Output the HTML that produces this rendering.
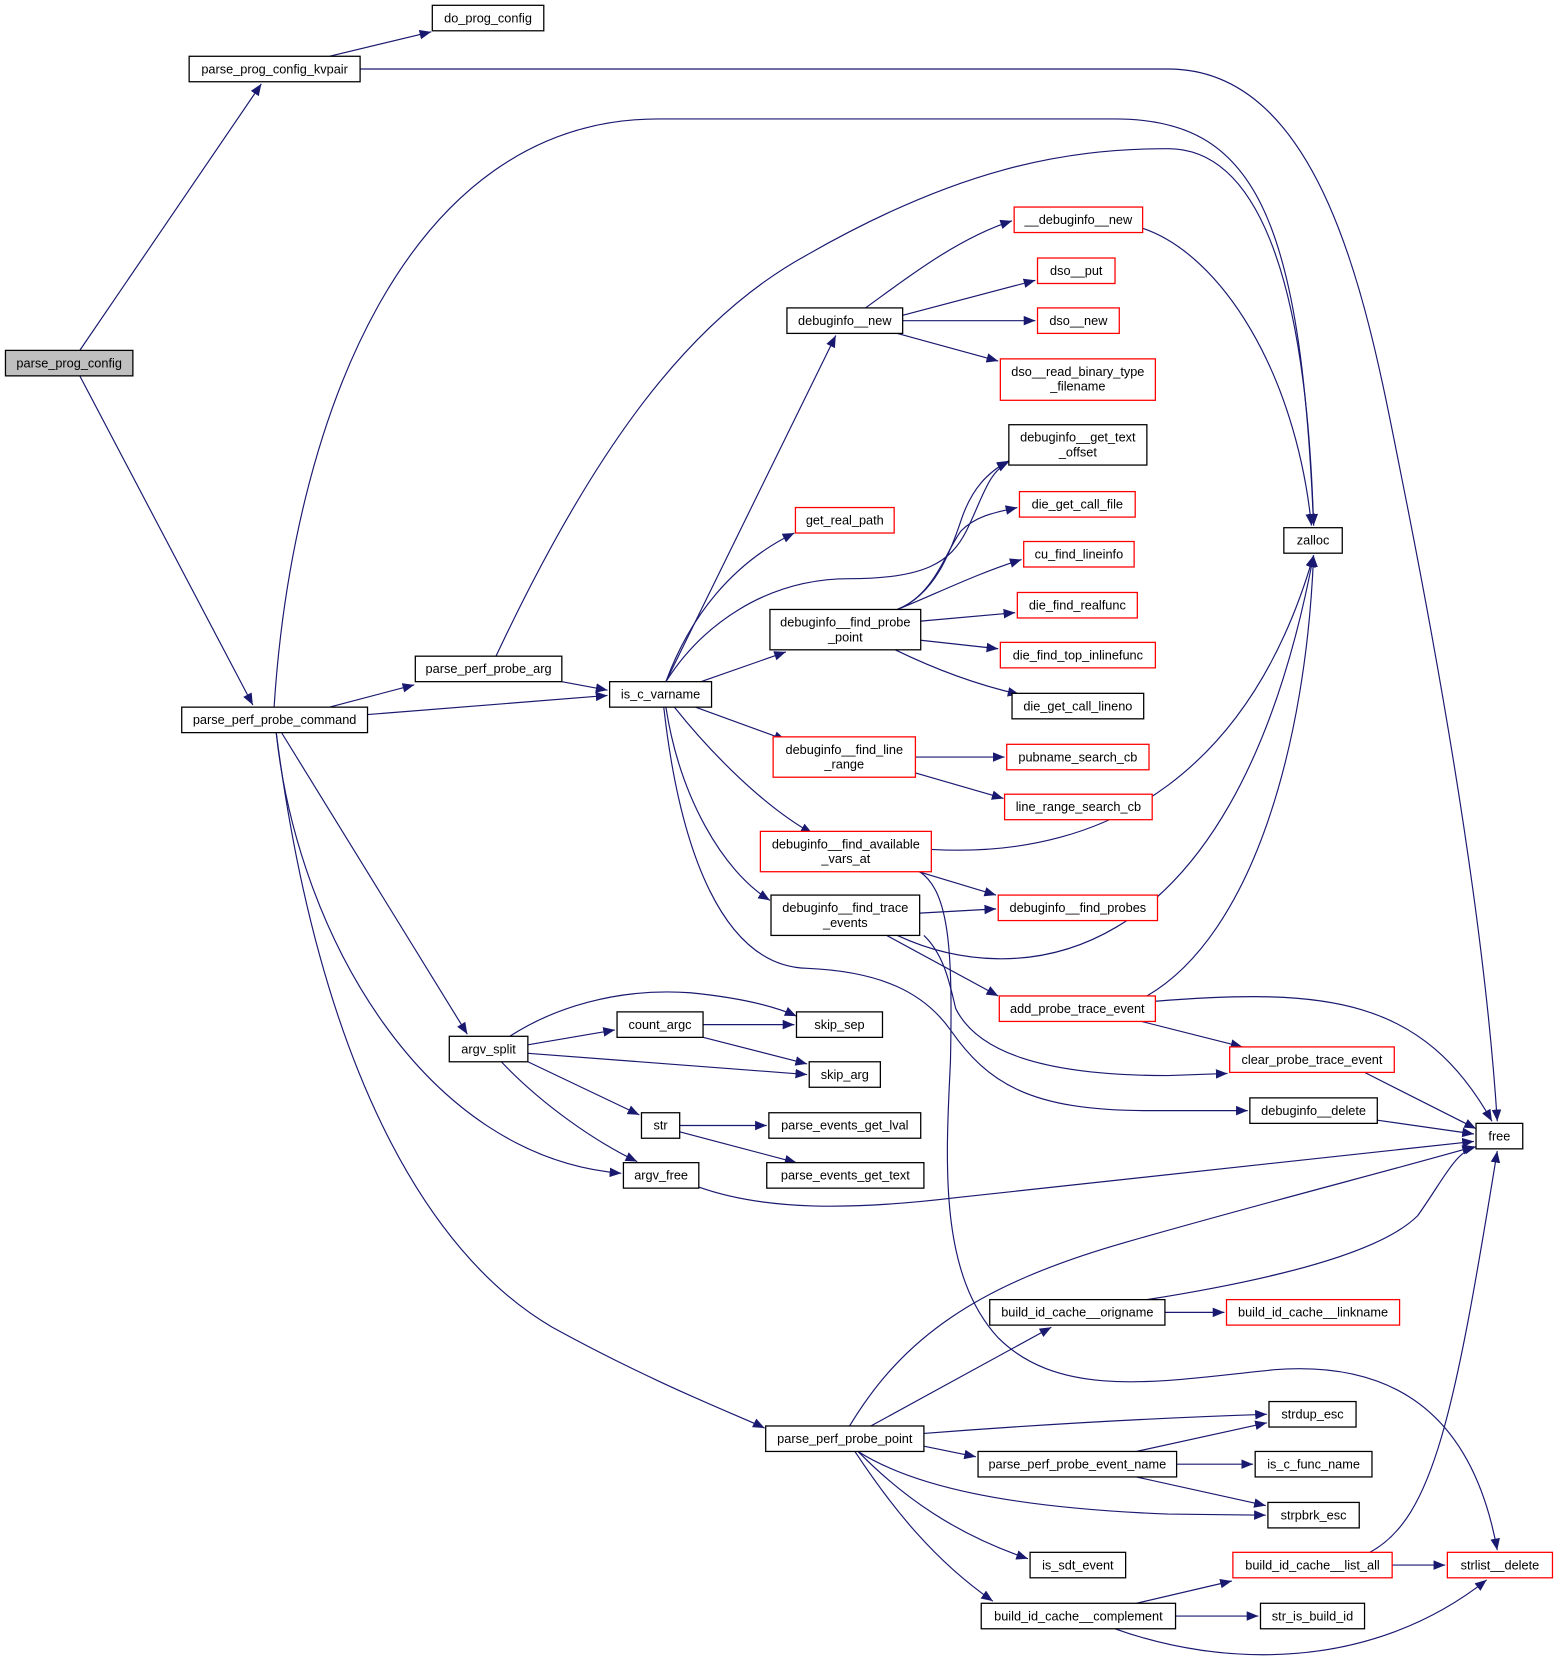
<!DOCTYPE html>
<html><head><meta charset="utf-8"><style>
html,body{margin:0;padding:0;background:#fff;}
svg{display:block;}
text{font-family:"Liberation Sans",sans-serif;font-size:12px;fill:#000;text-anchor:middle;}
.e{fill:none;stroke:#191970;stroke-width:1.1;marker-end:url(#a);}
.n{fill:#fff;stroke:#000;stroke-width:1.2;}
.r{fill:#fff;stroke:#ff0000;stroke-width:1.2;}
</style></head><body>
<svg width="1559" height="1667" viewBox="0 0 1468 1570" xmlns="http://www.w3.org/2000/svg">
<defs><marker id="a" markerUnits="userSpaceOnUse" markerWidth="12" markerHeight="10" refX="11" refY="4.5" orient="auto"><path d="M0,0 L11,4.5 L0,9 z" fill="#191970"/></marker></defs>
<g>
<path class="e" d="M75,330 L246,79"/>
<path class="e" d="M75,354 L238,664"/>
<path class="e" d="M310,53 L406,30"/>
<path class="e" d="M339,65 L1100,65 C1250,65 1290,300 1320,450 C1370,700 1400,900 1410,1056"/>
<path class="e" d="M258,666 C275,400 380,112 620,112 L1050,112 C1180,112 1225,200 1237,495"/>
<path class="e" d="M310,666 L390,645"/>
<path class="e" d="M346,673 L572,655"/>
<path class="e" d="M265,690 L440,974"/>
<path class="e" d="M260,690 C280,880 400,1090 585,1105"/>
<path class="e" d="M260,690 C300,1000 400,1180 520,1250 C620,1305 700,1335 720,1345"/>
<path class="e" d="M467,618 C560,420 650,300 760,240 C900,160 1000,140 1100,140 C1180,140 1230,250 1237,495"/>
<path class="e" d="M529,642 L572,650"/>
<path class="e" d="M627,642 L787,316"/>
<path class="e" d="M627,642 C650,580 690,530 748,502"/>
<path class="e" d="M627,642 C660,590 720,545 800,545 C870,545 895,530 910,500 C925,470 930,445 950,435"/>
<path class="e" d="M660,642 L740,614"/>
<path class="e" d="M655,666 L740,697"/>
<path class="e" d="M635,666 C670,710 720,760 765,785"/>
<path class="e" d="M627,666 C640,750 680,820 725,848"/>
<path class="e" d="M625,666 C640,800 680,910 760,912 C830,915 870,935 895,970 C930,1020 970,1046 1080,1046 L1175,1046"/>
<path class="e" d="M866,821 C895,840 897,900 895,1000 C890,1100 885,1200 940,1260 C1000,1320 1100,1300 1200,1290 C1330,1280 1390,1350 1410,1460"/>
<path class="e" d="M815,290 C850,265 900,225 953,208"/>
<path class="e" d="M850,297 L975,264"/>
<path class="e" d="M850,302 L975,302"/>
<path class="e" d="M845,314 L940,340"/>
<path class="e" d="M1076,215 C1150,240 1220,350 1235,495"/>
<path class="e" d="M845,574 C880,560 895,520 905,490 C915,460 930,445 950,434"/>
<path class="e" d="M845,574 C880,560 890,520 905,500 C920,485 940,482 958,478"/>
<path class="e" d="M845,574 C880,560 920,540 962,527"/>
<path class="e" d="M867,585 L956,577"/>
<path class="e" d="M867,603 L940,611"/>
<path class="e" d="M843,612 C880,630 920,645 960,654"/>
<path class="e" d="M862,713 L946,713"/>
<path class="e" d="M862,728 L945,752"/>
<path class="e" d="M877,800 C1050,810 1180,720 1237,523"/>
<path class="e" d="M865,821 L938,843"/>
<path class="e" d="M866,860 L938,856"/>
<path class="e" d="M845,881 C950,930 1160,930 1237,523"/>
<path class="e" d="M835,881 L940,938"/>
<path class="e" d="M870,881 C890,900 895,930 900,950 C920,990 980,1013 1100,1013 L1156,1011"/>
<path class="e" d="M1080,938 C1180,880 1230,700 1237,523"/>
<path class="e" d="M1088,943 C1250,930 1340,940 1405,1056"/>
<path class="e" d="M1075,962 L1170,986"/>
<path class="e" d="M1285,1010 L1390,1063"/>
<path class="e" d="M1297,1055 L1388,1068"/>
<path class="e" d="M480,976 C520,950 580,930 650,935 C700,940 730,948 750,957"/>
<path class="e" d="M497,984 L579,970"/>
<path class="e" d="M497,992 L760,1012"/>
<path class="e" d="M497,1000 L602,1050"/>
<path class="e" d="M472,1000 C510,1040 560,1075 600,1094"/>
<path class="e" d="M662,965 L748,965"/>
<path class="e" d="M662,977 L760,1002"/>
<path class="e" d="M640,1060 L722,1060"/>
<path class="e" d="M640,1066 L750,1095"/>
<path class="e" d="M658,1118 C720,1140 800,1140 900,1128 L1388,1075"/>
<path class="e" d="M800,1343 C850,1260 920,1210 1060,1170 C1200,1130 1300,1105 1388,1080"/>
<path class="e" d="M1097,1236 L1153,1236"/>
<path class="e" d="M1080,1224 C1200,1205 1300,1180 1335,1145 C1360,1110 1370,1085 1390,1080"/>
<path class="e" d="M820,1343 L990,1250"/>
<path class="e" d="M870,1350 C1000,1340 1100,1335 1193,1332"/>
<path class="e" d="M870,1362 L919,1372"/>
<path class="e" d="M808,1367 C860,1400 950,1420 1100,1426 L1192,1427"/>
<path class="e" d="M808,1367 C850,1410 900,1445 968,1468"/>
<path class="e" d="M805,1367 C840,1420 880,1470 935,1508"/>
<path class="e" d="M1070,1367 L1193,1340"/>
<path class="e" d="M1108,1379 L1180,1379"/>
<path class="e" d="M1070,1391 L1192,1418"/>
<path class="e" d="M1290,1462 C1350,1430 1370,1330 1410,1084"/>
<path class="e" d="M1311,1474 L1361,1474"/>
<path class="e" d="M1070,1510 L1160,1489"/>
<path class="e" d="M1107,1522 L1185,1522"/>
<path class="e" d="M1050,1534 C1150,1570 1290,1575 1400,1488"/>
</g>
<g>
<rect x="5" y="330" width="120" height="24" fill="#bfbfbf" stroke="#000" stroke-width="1.2"/><text x="65" y="346">parse_prog_config</text>
<rect class="n" x="407" y="5" width="105" height="24"/><text x="459.5" y="21">do_prog_config</text>
<rect class="n" x="178" y="53" width="161" height="24"/><text x="258.5" y="69">parse_prog_config_kvpair</text>
<rect class="n" x="171" y="666" width="175" height="24"/><text x="258.5" y="682">parse_perf_probe_command</text>
<rect class="n" x="391" y="618" width="138" height="24"/><text x="460" y="634">parse_perf_probe_arg</text>
<rect class="n" x="574" y="642" width="96" height="24"/><text x="622" y="658">is_c_varname</text>
<rect class="n" x="741" y="290" width="109" height="24"/><text x="795.5" y="306">debuginfo__new</text>
<rect class="r" x="955" y="195" width="121" height="24"/><text x="1015.5" y="211">__debuginfo__new</text>
<rect class="r" x="977" y="243" width="73" height="24"/><text x="1013.5" y="259">dso__put</text>
<rect class="r" x="977" y="290" width="77" height="24"/><text x="1015.5" y="306">dso__new</text>
<rect class="r" x="942" y="338" width="146" height="39"/><text x="1015" y="354">dso__read_binary_type</text><text x="1015" y="368">_filename</text>
<rect class="n" x="950" y="400" width="130" height="38"/><text x="1015" y="416">debuginfo__get_text</text><text x="1015" y="430">_offset</text>
<rect class="r" x="749" y="478" width="93" height="24"/><text x="795.5" y="494">get_real_path</text>
<rect class="r" x="960" y="463" width="109" height="24"/><text x="1014.5" y="479">die_get_call_file</text>
<rect class="r" x="964" y="510" width="104" height="24"/><text x="1016" y="526">cu_find_lineinfo</text>
<rect class="n" x="725" y="574" width="142" height="38"/><text x="796" y="590">debuginfo__find_probe</text><text x="796" y="604">_point</text>
<rect class="r" x="958" y="558" width="113" height="24"/><text x="1014.5" y="574">die_find_realfunc</text>
<rect class="r" x="942" y="605" width="146" height="24"/><text x="1015" y="621">die_find_top_inlinefunc</text>
<rect class="n" x="953" y="653" width="124" height="24"/><text x="1015" y="669">die_get_call_lineno</text>
<rect class="r" x="728" y="694" width="134" height="38"/><text x="795" y="710">debuginfo__find_line</text><text x="795" y="724">_range</text>
<rect class="r" x="948" y="701" width="134" height="24"/><text x="1015" y="717">pubname_search_cb</text>
<rect class="r" x="946" y="748" width="139" height="24"/><text x="1015.5" y="764">line_range_search_cb</text>
<rect class="r" x="716" y="783" width="161" height="38"/><text x="796.5" y="799">debuginfo__find_available</text><text x="796.5" y="813">_vars_at</text>
<rect class="n" x="726" y="843" width="140" height="38"/><text x="796" y="859">debuginfo__find_trace</text><text x="796" y="873">_events</text>
<rect class="r" x="940" y="843" width="150" height="24"/><text x="1015" y="859">debuginfo__find_probes</text>
<rect class="r" x="941" y="938" width="147" height="24"/><text x="1014.5" y="954">add_probe_trace_event</text>
<rect class="r" x="1158" y="986" width="155" height="24"/><text x="1235.5" y="1002">clear_probe_trace_event</text>
<rect class="n" x="1177" y="1034" width="120" height="24"/><text x="1237" y="1050">debuginfo__delete</text>
<rect class="n" x="1209" y="497" width="55" height="24"/><text x="1236.5" y="513">zalloc</text>
<rect class="n" x="1390" y="1058" width="44" height="24"/><text x="1412" y="1074">free</text>
<rect class="n" x="423" y="976" width="74" height="24"/><text x="460" y="992">argv_split</text>
<rect class="n" x="581" y="953" width="81" height="24"/><text x="621.5" y="969">count_argc</text>
<rect class="n" x="750" y="953" width="81" height="24"/><text x="790.5" y="969">skip_sep</text>
<rect class="n" x="762" y="1000" width="67" height="24"/><text x="795.5" y="1016">skip_arg</text>
<rect class="n" x="604" y="1048" width="36" height="24"/><text x="622" y="1064">str</text>
<rect class="n" x="724" y="1048" width="143" height="24"/><text x="795.5" y="1064">parse_events_get_lval</text>
<rect class="n" x="722" y="1095" width="148" height="24"/><text x="796" y="1111">parse_events_get_text</text>
<rect class="n" x="587" y="1095" width="71" height="24"/><text x="622.5" y="1111">argv_free</text>
<rect class="n" x="932" y="1224" width="165" height="24"/><text x="1014.5" y="1240">build_id_cache__origname</text>
<rect class="r" x="1155" y="1224" width="163" height="24"/><text x="1236.5" y="1240">build_id_cache__linkname</text>
<rect class="n" x="721" y="1343" width="149" height="24"/><text x="795.5" y="1359">parse_perf_probe_point</text>
<rect class="n" x="1195" y="1320" width="82" height="24"/><text x="1236" y="1336">strdup_esc</text>
<rect class="n" x="921" y="1367" width="187" height="24"/><text x="1014.5" y="1383">parse_perf_probe_event_name</text>
<rect class="n" x="1182" y="1367" width="110" height="24"/><text x="1237" y="1383">is_c_func_name</text>
<rect class="n" x="1194" y="1415" width="86" height="24"/><text x="1237" y="1431">strpbrk_esc</text>
<rect class="n" x="970" y="1462" width="90" height="24"/><text x="1015" y="1478">is_sdt_event</text>
<rect class="r" x="1161" y="1462" width="150" height="24"/><text x="1236" y="1478">build_id_cache__list_all</text>
<rect class="r" x="1363" y="1462" width="99" height="24"/><text x="1412.5" y="1478">strlist__delete</text>
<rect class="n" x="924" y="1510" width="183" height="24"/><text x="1015.5" y="1526">build_id_cache__complement</text>
<rect class="n" x="1187" y="1510" width="98" height="24"/><text x="1236" y="1526">str_is_build_id</text>
</g>
</svg>
</body></html>
